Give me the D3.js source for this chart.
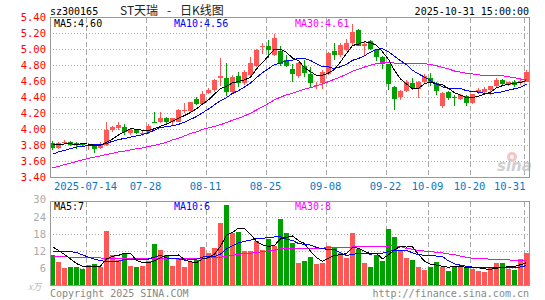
<!DOCTYPE html>
<html>
<head>
<meta charset="utf-8">
<script src="https://cdn.jsdelivr.net/npm/d3@7"></script>
<style>
  body { margin: 0; background: #fff; }
  svg { display: block; }
  text { font-family: "DejaVu Sans Mono", monospace; font-size: 10px; }
</style>
</head>
<body>
<svg id="chart" width="545" height="300"></svg>
<script>
// trading days shown (2025)
const dates = [
  "07-04","07-07","07-08","07-09","07-10","07-11","07-14","07-15","07-16","07-17",
  "07-18","07-21","07-22","07-23","07-24","07-25","07-28","07-29","07-30","07-31",
  "08-01","08-04","08-05","08-06","08-07","08-08","08-11","08-12","08-13","08-14",
  "08-15","08-18","08-19","08-20","08-21","08-22","08-25","08-26","08-27","08-28",
  "08-29","09-01","09-02","09-03","09-04","09-05","09-08","09-09","09-10","09-11",
  "09-12","09-15","09-16","09-17","09-18","09-19","09-22","09-23","09-24","09-25",
  "09-26","09-29","09-30","10-09","10-10","10-13","10-14","10-15","10-16","10-17",
  "10-20","10-21","10-22","10-23","10-24","10-27","10-28","10-29","10-30","10-31"
];

const open = [
  3.83,3.77,3.83,3.85,3.83,3.82,3.80,3.80,3.77,3.81,
  3.99,4.02,4.03,3.96,3.99,3.94,3.97,4.09,4.09,4.14,
  4.10,4.10,4.24,4.23,4.38,4.32,4.46,4.49,4.65,4.65,
  4.47,4.67,4.58,4.68,4.80,5.03,5.04,4.93,4.98,4.87,
  4.76,4.67,4.80,4.70,4.55,4.58,4.70,4.98,4.93,5.00,
  5.08,5.25,5.04,5.11,5.00,4.91,4.82,4.53,4.41,4.48,
  4.58,4.51,4.60,4.65,4.58,4.30,4.47,4.41,4.38,4.42,
  4.33,4.47,4.47,4.49,4.54,4.62,4.56,4.59,4.58,4.60
];
const high = [
  3.86,3.85,3.87,3.86,3.84,3.83,3.83,3.82,3.84,4.10,
  4.05,4.10,4.07,4.02,4.00,3.98,4.07,4.22,4.22,4.16,
  4.15,4.26,4.33,4.35,4.41,4.48,4.52,4.63,4.90,4.83,
  4.68,4.72,4.74,4.91,5.01,5.08,5.12,5.19,5.05,4.93,
  4.82,4.85,4.87,4.78,4.59,4.74,4.97,5.08,5.08,5.13,
  5.32,5.26,5.09,5.12,5.01,4.92,4.82,4.55,4.50,4.62,
  4.65,4.61,4.69,4.71,4.60,4.47,4.48,4.43,4.44,4.43,
  4.45,4.52,4.53,4.55,4.64,4.63,4.60,4.62,4.63,4.75
];
const low = [
  3.75,3.76,3.82,3.79,3.76,3.78,3.75,3.71,3.76,3.80,
  3.97,3.99,3.93,3.93,3.94,3.92,3.95,4.08,4.08,4.07,
  4.06,4.09,4.21,4.22,4.31,4.31,4.44,4.47,4.55,4.42,
  4.45,4.53,4.56,4.66,4.78,4.95,4.89,4.92,4.80,4.78,
  4.60,4.65,4.66,4.53,4.51,4.51,4.68,4.87,4.91,4.98,
  5.06,5.04,4.92,4.99,4.86,4.76,4.49,4.24,4.37,4.47,
  4.49,4.40,4.58,4.55,4.43,4.27,4.37,4.30,4.37,4.30,
  4.32,4.45,4.46,4.43,4.53,4.56,4.54,4.53,4.56,4.59
];
const close = [
  3.77,3.83,3.85,3.81,3.81,3.81,3.81,3.76,3.82,3.99,
  4.03,4.06,3.97,4.00,3.96,3.96,4.05,4.08,4.15,4.09,
  4.14,4.24,4.25,4.34,4.32,4.44,4.50,4.62,4.67,4.47,
  4.66,4.58,4.72,4.83,5.00,5.05,5.00,5.15,4.82,4.80,
  4.70,4.83,4.71,4.58,4.56,4.72,4.96,4.93,5.06,5.08,
  5.22,5.05,5.07,5.01,4.91,4.82,4.57,4.38,4.48,4.59,
  4.52,4.60,4.67,4.58,4.48,4.46,4.39,4.39,4.43,4.33,
  4.44,4.50,4.51,4.54,4.62,4.57,4.59,4.56,4.61,4.72
];
// volume, 万手
const volume = [
  10.6,8.3,6.2,6.6,6.6,5.9,7.2,7.5,6.6,19.1,
  10.5,8.9,11.2,6.8,6.5,6.8,8.5,14.4,12.4,10.5,
  6.8,9.1,6.6,8.3,8.9,13.5,11.2,13.0,21.9,28.1,
  18.4,18.8,12.0,12.0,15.6,12.4,16.2,13.8,23.2,18.4,
  14.9,8.0,8.7,9.8,7.5,8.0,13.8,13.3,11.2,9.7,
  18.2,12.6,8.0,6.6,10.6,8.7,19.7,17.0,12.0,9.7,
  8.9,6.5,5.4,6.6,8.2,6.6,5.1,6.8,6.8,6.3,
  5.9,5.1,4.8,6.3,7.8,7.8,5.9,5.4,9.3,11.4
];

// moving averages as drawn on the chart
const ma5 = [
  3.81,3.81,3.82,3.82,3.814,3.822,3.818,3.80,3.802,3.838,
  3.882,3.932,3.974,4.01,4.004,3.99,3.988,4.01,4.04,4.066,
  4.102,4.14,4.174,4.212,4.258,4.318,4.37,4.444,4.51,4.54,
  4.584,4.60,4.62,4.652,4.758,4.836,4.92,5.006,5.004,4.964,
  4.894,4.86,4.772,4.724,4.676,4.68,4.706,4.75,4.846,4.95,
  5.05,5.068,5.096,5.086,5.052,4.972,4.876,4.738,4.632,4.568,
  4.508,4.514,4.572,4.592,4.57,4.558,4.516,4.46,4.43,4.40,
  4.396,4.418,4.442,4.464,4.522,4.548,4.566,4.576,4.59,4.61
];
const ma10 = [
  3.69,3.72,3.74,3.76,3.78,3.79,3.80,3.81,3.81,3.826,
  3.852,3.875,3.887,3.906,3.921,3.936,3.96,3.992,4.025,4.035,
  4.046,4.064,4.092,4.126,4.162,4.21,4.255,4.309,4.361,4.399,
  4.451,4.485,4.532,4.581,4.649,4.71,4.76,4.813,4.828,4.861,
  4.865,4.89,4.889,4.864,4.82,4.787,4.783,4.761,4.785,4.813,
  4.865,4.887,4.923,4.966,5.001,5.011,4.972,4.917,4.859,4.81,
  4.74,4.695,4.655,4.612,4.569,4.533,4.515,4.516,4.511,4.485,
  4.477,4.467,4.451,4.447,4.461,4.472,4.492,4.509,4.527,4.566
];
const ma30 = [
  3.52,3.54,3.56,3.58,3.60,3.62,3.64,3.655,3.67,3.69,
  3.70,3.72,3.73,3.745,3.76,3.77,3.79,3.80,3.82,3.84,
  3.87,3.89,3.92,3.95,3.97,4.00,4.02,4.04,4.06,4.087,
  4.116,4.141,4.170,4.204,4.244,4.285,4.325,4.371,4.405,4.432,
  4.454,4.480,4.504,4.524,4.544,4.569,4.599,4.628,4.658,4.691,
  4.727,4.754,4.781,4.804,4.823,4.836,4.838,4.830,4.824,4.828,
  4.823,4.824,4.822,4.814,4.797,4.777,4.757,4.731,4.718,4.703,
  4.694,4.683,4.676,4.675,4.677,4.672,4.660,4.647,4.632,4.620
];
const vma5 = [
  13.5,12.2,10.8,9.2,7.66,6.72,6.5,6.76,6.76,9.26,
  10.18,10.52,11.26,11.3,8.78,8.04,7.96,8.6,9.72,10.52,
  10.52,10.64,9.08,8.26,7.94,9.28,9.7,10.98,13.7,17.54,
  18.52,20.04,19.84,17.86,15.36,14.16,13.64,14.0,16.24,16.8,
  17.3,15.66,14.64,11.96,9.78,8.4,9.56,10.48,10.76,11.2,
  13.24,13.0,11.94,11.02,11.2,9.3,10.72,12.52,13.6,13.42,
  13.46,10.82,8.5,7.42,7.12,6.66,6.38,6.66,6.7,6.32,
  6.18,6.18,5.78,5.68,5.98,6.36,6.52,6.64,7.24,7.96
];
const vma10 = [
  11.8,11.8,11.8,11.8,11.5,10.7,9.9,9.2,8.6,8.46,
  8.45,8.51,9.01,9.03,9.02,9.11,9.24,9.93,10.51,9.65,
  9.28,9.3,8.84,8.99,9.23,9.9,10.17,10.03,10.98,12.74,
  13.9,14.87,15.41,15.78,16.45,16.34,16.84,16.92,17.05,16.08,
  15.73,14.65,14.32,14.1,13.29,12.85,12.61,12.56,11.36,10.49,
  10.82,11.28,11.21,10.89,11.2,11.27,11.86,12.23,12.31,12.31,
  11.38,10.77,10.51,10.51,10.27,10.06,8.6,7.58,7.06,6.72,
  6.42,6.28,6.22,6.19,6.15,6.27,6.35,6.21,6.46,6.97
];
const vma30 = [
  10.0,10.0,10.0,9.9,9.9,9.8,9.8,9.7,9.6,9.5,
  9.5,9.5,9.5,9.5,9.4,9.4,9.3,9.3,9.4,9.4,
  9.4,9.4,9.5,9.5,9.5,9.5,9.6,9.6,9.8,10.28,
  10.54,10.89,11.09,11.27,11.57,11.78,12.08,12.29,12.85,12.82,
  12.97,12.94,12.86,12.96,12.99,13.03,13.21,13.17,13.13,13.10,
  13.48,13.6,13.65,13.59,13.65,13.49,13.77,13.9,13.57,12.96,
  12.64,12.23,12.01,11.83,11.59,11.39,11.02,10.79,10.24,9.84,
  9.54,9.44,9.31,9.2,9.21,9.2,8.94,8.67,8.61,8.67
];

const priceTicks = [5.40, 5.20, 5.00, 4.80, 4.60, 4.40, 4.20, 4.00, 3.80, 3.60, 3.40];
const volTicks = [30, 24, 18, 12, 6];
const dateTicks = ["07-14", "07-28", "08-11", "08-25", "09-08", "09-22", "10-09", "10-20", "10-31"];
const dateTickLabels = ["2025-07-14", "07-28", "08-11", "08-25", "09-08", "09-22", "10-09", "10-20", "10-31"];

const UP = "#ff5656", DOWN = "#00a000";

const svg = d3.select("#chart");

const x = d3.scaleBand().domain(dates).range([50, 529]).paddingInner(1 / 6).paddingOuter(0);
const y = d3.scaleLinear().domain([3.4, 5.4]).range([177.5, 17.5]);
const yv = d3.scaleLinear().domain([0, 30]).range([285.5, 199.5]);
const cx = d => x(d) + x.bandwidth() / 2;

// clip paths for the two panels
const defs = svg.append("defs");
defs.append("clipPath").attr("id", "clipK").append("rect").attr("x", 51).attr("y", 18).attr("width", 478).attr("height", 159);
defs.append("clipPath").attr("id", "clipV").append("rect").attr("x", 51).attr("y", 202).attr("width", 478).attr("height", 83);

// ---- grid ----
const grid = svg.append("g").attr("fill", "none");
grid.selectAll(".hgrid")
  .data(priceTicks.slice(1, -1))
  .enter().append("line")
  .attr("x1", 50).attr("x2", 529)
  .attr("y1", d => y(d)).attr("y2", d => y(d))
  .attr("stroke", "#aaa").attr("stroke-dasharray", "1,2");
grid.selectAll(".vhgrid")
  .data(volTicks.slice(1))
  .enter().append("line")
  .attr("x1", 50).attr("x2", 529)
  .attr("y1", d => Math.round(yv(d)) + 0.5).attr("y2", d => Math.round(yv(d)) + 0.5)
  .attr("stroke", "#aaa").attr("stroke-dasharray", "1,2");
dateTicks.forEach(d => {
  const gx = x(d) + 0.5;
  grid.append("line").attr("x1", gx).attr("x2", gx).attr("y1", 18).attr("y2", 177)
    .attr("stroke", "#aaa").attr("stroke-dasharray", "5,3");
  grid.append("line").attr("x1", gx).attr("x2", gx).attr("y1", 202).attr("y2", 285)
    .attr("stroke", "#aaa").attr("stroke-dasharray", "5,3");
});

// sina watermark
const wm = svg.append("g");
wm.append("circle").attr("cx", 512).attr("cy", 157).attr("r", 5).attr("fill", "#f6c4c4");
wm.append("circle").attr("cx", 512).attr("cy", 157).attr("r", 2).attr("fill", "#fff");
wm.append("text").attr("x", 497).attr("y", 171)
  .style("font-family", "DejaVu Sans").style("font-size", "15px").style("font-style", "italic").style("font-weight", "bold")
  .attr("fill", "#cfcfcf").text("sina");

// ---- candles ----
const candles = svg.append("g").attr("clip-path", "url(#clipK)").attr("shape-rendering", "crispEdges");
const idx = d3.range(dates.length);
const col = i => close[i] >= open[i] ? UP : DOWN;

candles.selectAll(".wick")
  .data(idx).enter().append("line")
  .attr("x1", i => cx(dates[i])).attr("x2", i => cx(dates[i]))
  .attr("y1", i => y(high[i])).attr("y2", i => y(low[i]))
  .attr("stroke", col);
candles.selectAll(".body")
  .data(idx).enter().append("rect")
  .attr("x", i => x(dates[i]))
  .attr("width", x.bandwidth())
  .attr("y", i => y(Math.max(open[i], close[i])))
  .attr("height", i => Math.max(1, Math.abs(y(open[i]) - y(close[i]))))
  .attr("fill", col);

// ---- volume bars ----
svg.append("g").attr("clip-path", "url(#clipV)").attr("shape-rendering", "crispEdges")
  .selectAll("rect")
  .data(idx).enter().append("rect")
  .attr("x", i => x(dates[i]))
  .attr("width", x.bandwidth())
  .attr("y", i => yv(volume[i]))
  .attr("height", i => 285 - yv(volume[i]))
  .attr("fill", col);

// ---- moving average lines ----
function maLine(arr, scale, color, clip) {
  const line = d3.line().x((d, i) => cx(dates[i])).y(d => scale(d));
  svg.append("path")
    .attr("clip-path", clip)
    .attr("d", line(arr))
    .attr("fill", "none")
    .attr("stroke", color)
    .attr("stroke-width", 1)
    .attr("shape-rendering", "crispEdges");
}
maLine(ma30, y, "#ff00ff", "url(#clipK)");
maLine(ma10, y, "#0000ff", "url(#clipK)");
maLine(ma5, y, "#000000", "url(#clipK)");
maLine(vma30, yv, "#ff00ff", "url(#clipV)");
maLine(vma10, yv, "#0000ff", "url(#clipV)");
maLine(vma5, yv, "#000000", "url(#clipV)");

// ---- panel borders ----
const border = svg.append("g").attr("fill", "none").attr("stroke", "#999").attr("shape-rendering", "crispEdges");
border.append("rect").attr("x", 50.5).attr("y", 17.5).attr("width", 479).attr("height", 160);
border.append("rect").attr("x", 50.5).attr("y", 201.5).attr("width", 479).attr("height", 84);

// ---- axes ----
const yAxis = svg.append("g")
  .attr("transform", "translate(50,0)")
  .call(d3.axisLeft(y).tickValues(priceTicks).tickFormat(d3.format(".2f")).tickSize(0).tickPadding(4));
yAxis.select(".domain").remove();
yAxis.selectAll("text").attr("fill", "#ff0000")
  .style("font-family", "DejaVu Sans Mono").style("font-size", "10.5px");

const vAxis = svg.append("g")
  .attr("transform", "translate(50,0)")
  .call(d3.axisLeft(yv).tickValues(volTicks).tickSize(0).tickPadding(4));
vAxis.select(".domain").remove();
vAxis.selectAll("text").attr("fill", "#aaa")
  .style("font-family", "DejaVu Sans Mono").style("font-size", "10.5px");

const xAxis = svg.append("g")
  .attr("transform", "translate(-3,177.5)")
  .call(d3.axisBottom(x).tickValues(dateTicks)
    .tickFormat((d, i) => dateTickLabels[i]).tickSize(0).tickPadding(5));
xAxis.select(".domain").remove();
xAxis.selectAll("text").attr("fill", "#0a78c8")
  .style("font-family", "DejaVu Sans Mono").style("font-size", "10.5px");
xAxis.selectAll(".tick").filter(d => d === dates[dates.length - 1])
  .select("text").attr("text-anchor", "end").attr("x", 2);

// ---- header ----
svg.append("text").attr("x", 50).attr("y", 15).attr("fill", "#000").text("sz300165");
const cjk = '"Noto Sans CJK SC", sans-serif';
svg.append("text").attr("x", 120).attr("y", 15).style("font-family", cjk).style("font-size", "12px").attr("fill", "#222").text("ST天瑞");
svg.append("text").attr("x", 167).attr("y", 15).style("font-family", cjk).style("font-size", "12px").attr("fill", "#222").text("-");
svg.append("text").attr("x", 180).attr("y", 15).style("font-family", cjk).style("font-size", "12px").attr("fill", "#222").text("日K线图");
svg.append("text").attr("x", 529).attr("y", 15).attr("text-anchor", "end").attr("fill", "#000").text("2025-10-31 15:00:00");

// ---- legends ----
const fmt2 = d3.format(".2f");
const legK = [
  { x: 54, t: "MA5:" + fmt2(4.60), c: "#000" },
  { x: 174, t: "MA10:" + fmt2(4.56), c: "#0000ff" },
  { x: 295, t: "MA30:" + fmt2(4.61), c: "#ff00ff" }
];
const legV = [
  { x: 54, t: "MA5:7", c: "#000" },
  { x: 174, t: "MA10:6", c: "#0000ff" },
  { x: 295, t: "MA30:8", c: "#ff00ff" }
];
svg.selectAll(".legK").data(legK).enter().append("text")
  .attr("x", d => d.x).attr("y", 27).attr("fill", d => d.c).text(d => d.t);
svg.selectAll(".legV").data(legV).enter().append("text")
  .attr("x", d => d.x).attr("y", 210).attr("fill", d => d.c).text(d => d.t);

// ---- footer ----
svg.append("text").attr("x", 28).attr("y", 290).style("font-family", cjk).style("font-size", "9px")
  .style("font-style", "italic").attr("fill", "#bbb").text("x万");
svg.append("text").attr("x", 50).attr("y", 297).attr("fill", "#888").text("Copyright 2025 SINA.COM");
svg.append("text").attr("x", 529).attr("y", 297).attr("text-anchor", "end").attr("fill", "#888").text("http://finance.sina.com.cn");
</script>
</body>
</html>
